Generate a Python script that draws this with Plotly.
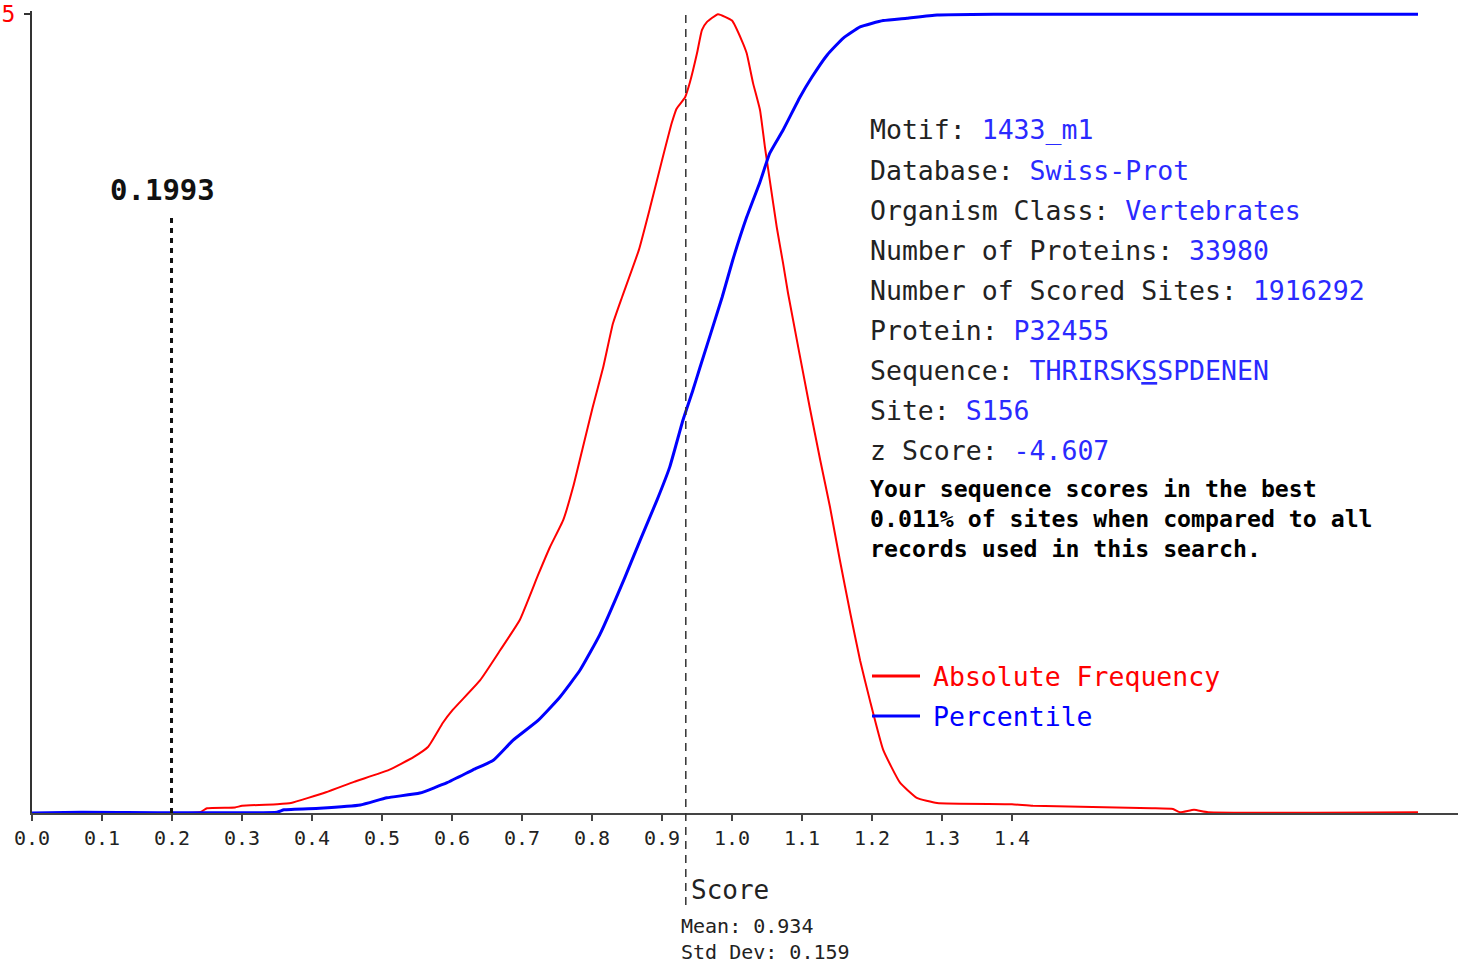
import plotly.graph_objects as go

# ---------------- data ----------------
freq_x = [0.0, 0.24, 0.25, 0.29, 0.30, 0.35, 0.37, 0.42, 0.46, 0.51, 0.545, 0.566, 0.587, 0.601,
          0.64, 0.669, 0.697, 0.723, 0.74, 0.759, 0.773, 0.787, 0.801, 0.816, 0.83, 0.843,
          0.867, 0.883, 0.9, 0.914, 0.921, 0.933, 0.94, 0.95, 0.957, 0.964, 0.98, 1.0, 1.014,
          1.021, 1.03, 1.04, 1.047, 1.054, 1.064, 1.073, 1.08, 1.111, 1.126, 1.14, 1.154,
          1.169, 1.183, 1.197, 1.216, 1.24, 1.264, 1.293, 1.4, 1.43, 1.6, 1.63, 1.64, 1.66,
          1.68, 1.98]
freq_y = [0.0, 0.001, 0.006, 0.007, 0.009, 0.011, 0.0125, 0.026, 0.039, 0.054, 0.070, 0.083,
          0.113, 0.129, 0.166, 0.204, 0.242, 0.298, 0.333, 0.367, 0.408, 0.458, 0.508, 0.558,
          0.613, 0.646, 0.705, 0.758, 0.817, 0.864, 0.882, 0.896, 0.915, 0.951, 0.980, 0.990,
          1.0, 0.992, 0.967, 0.951, 0.914, 0.880, 0.834, 0.792, 0.733, 0.688, 0.651, 0.508,
          0.442, 0.383, 0.317, 0.250, 0.191, 0.141, 0.079, 0.038, 0.019, 0.0125, 0.011, 0.009,
          0.006, 0.005, 0.001, 0.004, 0.001, 0.001]

pct_x = [0.0, 0.07, 0.35, 0.36, 0.411, 0.469, 0.507, 0.554, 0.593, 0.63, 0.659, 0.687, 0.723,
         0.754, 0.783, 0.811, 0.847, 0.869, 0.893, 0.911, 0.93, 0.944, 0.954, 0.986, 1.001,
         1.021, 1.04, 1.054, 1.073, 1.097, 1.114, 1.136, 1.159, 1.183, 1.216, 1.25, 1.293,
         1.374, 1.98]
pct_y = [0.0, 0.001, 0.001, 0.004, 0.006, 0.010, 0.019, 0.025, 0.038, 0.054, 0.066, 0.091,
         0.116, 0.145, 0.179, 0.223, 0.295, 0.342, 0.392, 0.433, 0.492, 0.529, 0.557, 0.646,
         0.692, 0.746, 0.790, 0.826, 0.855, 0.896, 0.921, 0.949, 0.970, 0.984, 0.992, 0.995,
         0.999, 1.0, 1.0]

tick_vals = [0.0, 0.1, 0.2, 0.3, 0.4, 0.5, 0.6, 0.7, 0.8, 0.9, 1.0, 1.1, 1.2, 1.3, 1.4]
tick_text = ["0.0", "0.1", "0.2", "0.3", "0.4", "0.5", "0.6", "0.7", "0.8", "0.9",
             "1.0", "1.1", "1.2", "1.3", "1.4"]

site_score = 0.1993
mean_score = 0.934
std_dev = 0.159

info_labels = ["Motif:", "Database:", "Organism Class:", "Number of Proteins:",
               "Number of Scored Sites:", "Protein:", "Sequence:", "Site:", "z Score:"]
info_values = ["1433_m1", "Swiss-Prot", "Vertebrates", "33980", "1916292", "P32455",
               "THRIRSK<u>S</u>SPDENEN", "S156", "-4.607"]
summary_lines = ["Your sequence scores in the best",
                 "0.011% of sites when compared to all",
                 "records used in this search."]

# ---------------- layout constants ----------------
W, H = 1458, 966
ML, MR, MT, MB = 32, 0, 11, 153
PW = W - ML - MR
PH = H - MT - MB
X_PER_PX = 1.0 / 700.0
XMAX = PW * X_PER_PX
YMAX = 1.004

FONT = "DejaVu Sans Mono"
RED = "#ff0000"
BLUE = "#0000ff"
TXT_BLUE = "#2a2aff"
DARK = "#222222"


def pxx(p):
    return (p - ML) / PW


def pxy(p):
    return (H - MB - p) / PH


fig = go.Figure()
fig.add_trace(go.Scatter(x=freq_x, y=freq_y, mode="lines", name="Absolute Frequency",
                         line=dict(color=RED, width=2, shape="spline", smoothing=0.4),
                         showlegend=False, hoverinfo="skip"))
fig.add_trace(go.Scatter(x=pct_x, y=pct_y, mode="lines", name="Percentile",
                         line=dict(color=BLUE, width=3, shape="spline", smoothing=0.4),
                         showlegend=False, hoverinfo="skip"))

shapes = []
# mean line
shapes.append(dict(type="line", xref="x", yref="paper", x0=mean_score, x1=mean_score,
                   y0=pxy(905), y1=pxy(14), line=dict(color="#333333", width=1.5, dash="8px,6px")))
# site score line
shapes.append(dict(type="line", xref="x", yref="y", x0=site_score, x1=site_score,
                   y0=0, y1=0.749, line=dict(color="#111111", width=3, dash="5px,5px")))
# legend samples
shapes.append(dict(type="line", xref="paper", yref="paper", x0=pxx(872), x1=pxx(920),
                   y0=pxy(676), y1=pxy(676), line=dict(color=RED, width=3)))
shapes.append(dict(type="line", xref="paper", yref="paper", x0=pxx(872), x1=pxx(920),
                   y0=pxy(716), y1=pxy(716), line=dict(color=BLUE, width=3)))

ann = []
ann.append(dict(x=site_score, y=0.78, xref="x", yref="y", text="<b>%.4f</b>" % site_score,
                showarrow=False, xanchor="center", yanchor="middle", xshift=-9,
                font=dict(family=FONT, size=29, color="#111111")))
ann.append(dict(x=pxx(931), y=pxy(676), xref="paper", yref="paper", text="Absolute Frequency",
                showarrow=False, xanchor="left", yanchor="middle",
                font=dict(family=FONT, size=26.5, color=RED)))
ann.append(dict(x=pxx(931), y=pxy(716), xref="paper", yref="paper", text="Percentile",
                showarrow=False, xanchor="left", yanchor="middle",
                font=dict(family=FONT, size=26.5, color=BLUE)))

for i, (lab, val) in enumerate(zip(info_labels, info_values)):
    ann.append(dict(x=pxx(868), y=pxy(130 + 40 * i), xref="paper", yref="paper",
                    text='%s <span style="color:%s">%s</span>' % (lab, TXT_BLUE, val),
                    showarrow=False, xanchor="left", yanchor="middle",
                    font=dict(family=FONT, size=26.5, color=DARK)))
for i, line in enumerate(summary_lines):
    ann.append(dict(x=pxx(868), y=pxy(488 + 30 * i), xref="paper", yref="paper",
                    text="<b>%s</b>" % line, showarrow=False, xanchor="left", yanchor="middle",
                    font=dict(family=FONT, size=23.2, color="#000000")))

ann.append(dict(x=pxx(689), y=pxy(890), xref="paper", yref="paper", text="Score",
                showarrow=False, xanchor="left", yanchor="middle",
                font=dict(family=FONT, size=26, color=DARK)))
ann.append(dict(x=pxx(680), y=pxy(926), xref="paper", yref="paper", text="Mean: %.3f" % mean_score,
                showarrow=False, xanchor="left", yanchor="middle", borderpad=0,
                font=dict(family=FONT, size=20, color=DARK)))
ann.append(dict(x=pxx(680), y=pxy(952), xref="paper", yref="paper", text="Std Dev: %.3f" % std_dev,
                showarrow=False, xanchor="left", yanchor="middle", borderpad=0,
                font=dict(family=FONT, size=20, color=DARK)))

fig.update_layout(
    width=W, height=H,
    margin=dict(l=ML, r=MR, t=MT, b=MB, pad=0, autoexpand=False),
    paper_bgcolor="white", plot_bgcolor="white",
    showlegend=False,
    shapes=shapes, annotations=ann,
    xaxis=dict(range=[0, XMAX], showgrid=False, zeroline=False, showline=True,
               linecolor="#444444", linewidth=2, ticks="outside", ticklen=6, tickwidth=1.5,
               tickcolor="#444444", tickvals=tick_vals, ticktext=tick_text, automargin=False,
               tickfont=dict(family=FONT, size=20, color=DARK), fixedrange=True),
    yaxis=dict(range=[0, YMAX], showgrid=False, zeroline=False, showline=True,
               linecolor="#333333", linewidth=2, ticks="outside", ticklen=6, tickwidth=1.5,
               tickcolor="#333333", tickvals=[1.0], ticktext=["5"], ticklabelstandoff=4,
               ticklabeloverflow="allow", automargin=False,
               tickfont=dict(family=FONT, size=23, color=RED), fixedrange=True),
)

fig.write_html("out.html", config={"displayModeBar": False},
               post_script="document.body.style.margin='0';document.body.style.overflow='hidden';")
